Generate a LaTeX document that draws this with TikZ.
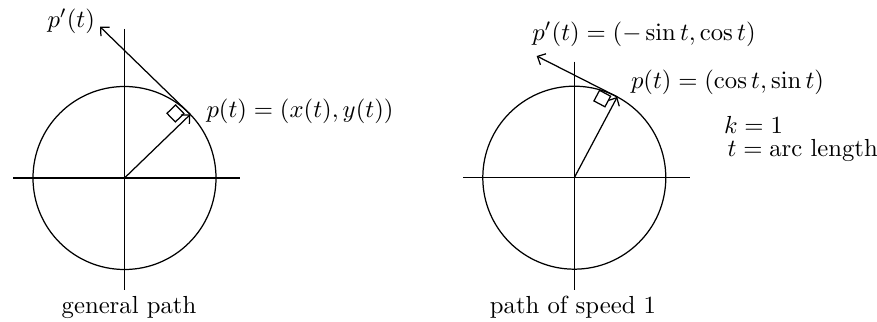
\documentclass[tikz,border=0pt]{standalone}
\usetikzlibrary{calc,arrows.meta}
\begin{document}
\begin{tikzpicture}[x=0.405pt,y=-0.405pt,
  line width=0.5pt,
  vec/.style={-{Straight Barb[length=2.6pt,width=5pt]}},
  lbl/.style={inner sep=0pt,outer sep=0pt},
  sq/.style={line width=0.5pt}]
\useasboundingbox (0,0) rectangle (877,322);
% ---------- left figure ----------
\coordinate (cL) at (124.5,178);
\coordinate (hLa) at (13.3,178);
\coordinate (hLb) at (240,178);
\coordinate (vLa) at (124.5,29);
\coordinate (vLb) at (124.5,290);
\draw (hLa) -- (hLb);
\draw (vLa) -- (vLb);
\draw (cL) circle[radius=91.5];
\coordinate (pL) at ($(cL)+(-44:91.5)$);
\coordinate (dL) at (100,26.7);
\draw[vec] (cL) -- (pL);
\draw[vec] (pL) -- (dL);
\coordinate (RL) at ($(pL)+(136:4)+(-134:5)$);
\coordinate (TL) at ($(RL)+(-134:12)$);
\coordinate (LL) at ($(TL)+(136:12)$);
\coordinate (BL) at ($(RL)+(136:12)$);
\draw[sq] (RL) -- (TL) -- (LL) -- (BL) -- cycle;
\node[lbl,anchor=base east] (dLlab) at (95,27.2) {$p'(t)$};
\node[lbl,anchor=base west] (pLlab) at (206.5,117.3) {$p(t) = (x(t),y(t))$};
\node[lbl,anchor=base] (capL) at (129,314) {general path};
% ---------- right figure ----------
\coordinate (cR) at (574.3,177.7);
\coordinate (hRa) at (463.3,177.7);
\coordinate (hRb) at (690,177.7);
\coordinate (vRa) at (574.3,61.7);
\coordinate (vRb) at (574.3,290);
\draw (hRa) -- (hRb);
\draw (vRa) -- (vRb);
\draw (cR) circle[radius=91.5];
\coordinate (pR) at ($(cR)+(-62:91.5)$);
\coordinate (dR) at (536.7,56);
\draw[vec] (cR) -- (pR);
\draw[vec] (pR) -- (dR);
\coordinate (RR) at ($(pR)+(118:2.5)+(-152:6.2)$);
\coordinate (TR) at ($(RR)+(-152:12.5)$);
\coordinate (LR) at ($(TR)+(118:12)$);
\coordinate (BR) at ($(RR)+(118:12)$);
\draw[sq] (RR) -- (TR) -- (LR) -- (BR) -- cycle;
\node[lbl,anchor=base west] (dRlab) at (532.3,40.6) {$p'(t) = (-\sin t, \cos t)$};
\node[lbl,anchor=base west] (pRlab) at (631,88.9) {$p(t) = (\cos t, \sin t)$};
\node[lbl,anchor=base west] (klab) at (724,134) {$k = 1$};
\node[lbl,anchor=base west] (tlab) at (727.5,156.7) {$t = \mbox{arc length}$};
\node[lbl,anchor=base] (capR) at (573,314) {path of speed 1};
\end{tikzpicture}
\end{document}
